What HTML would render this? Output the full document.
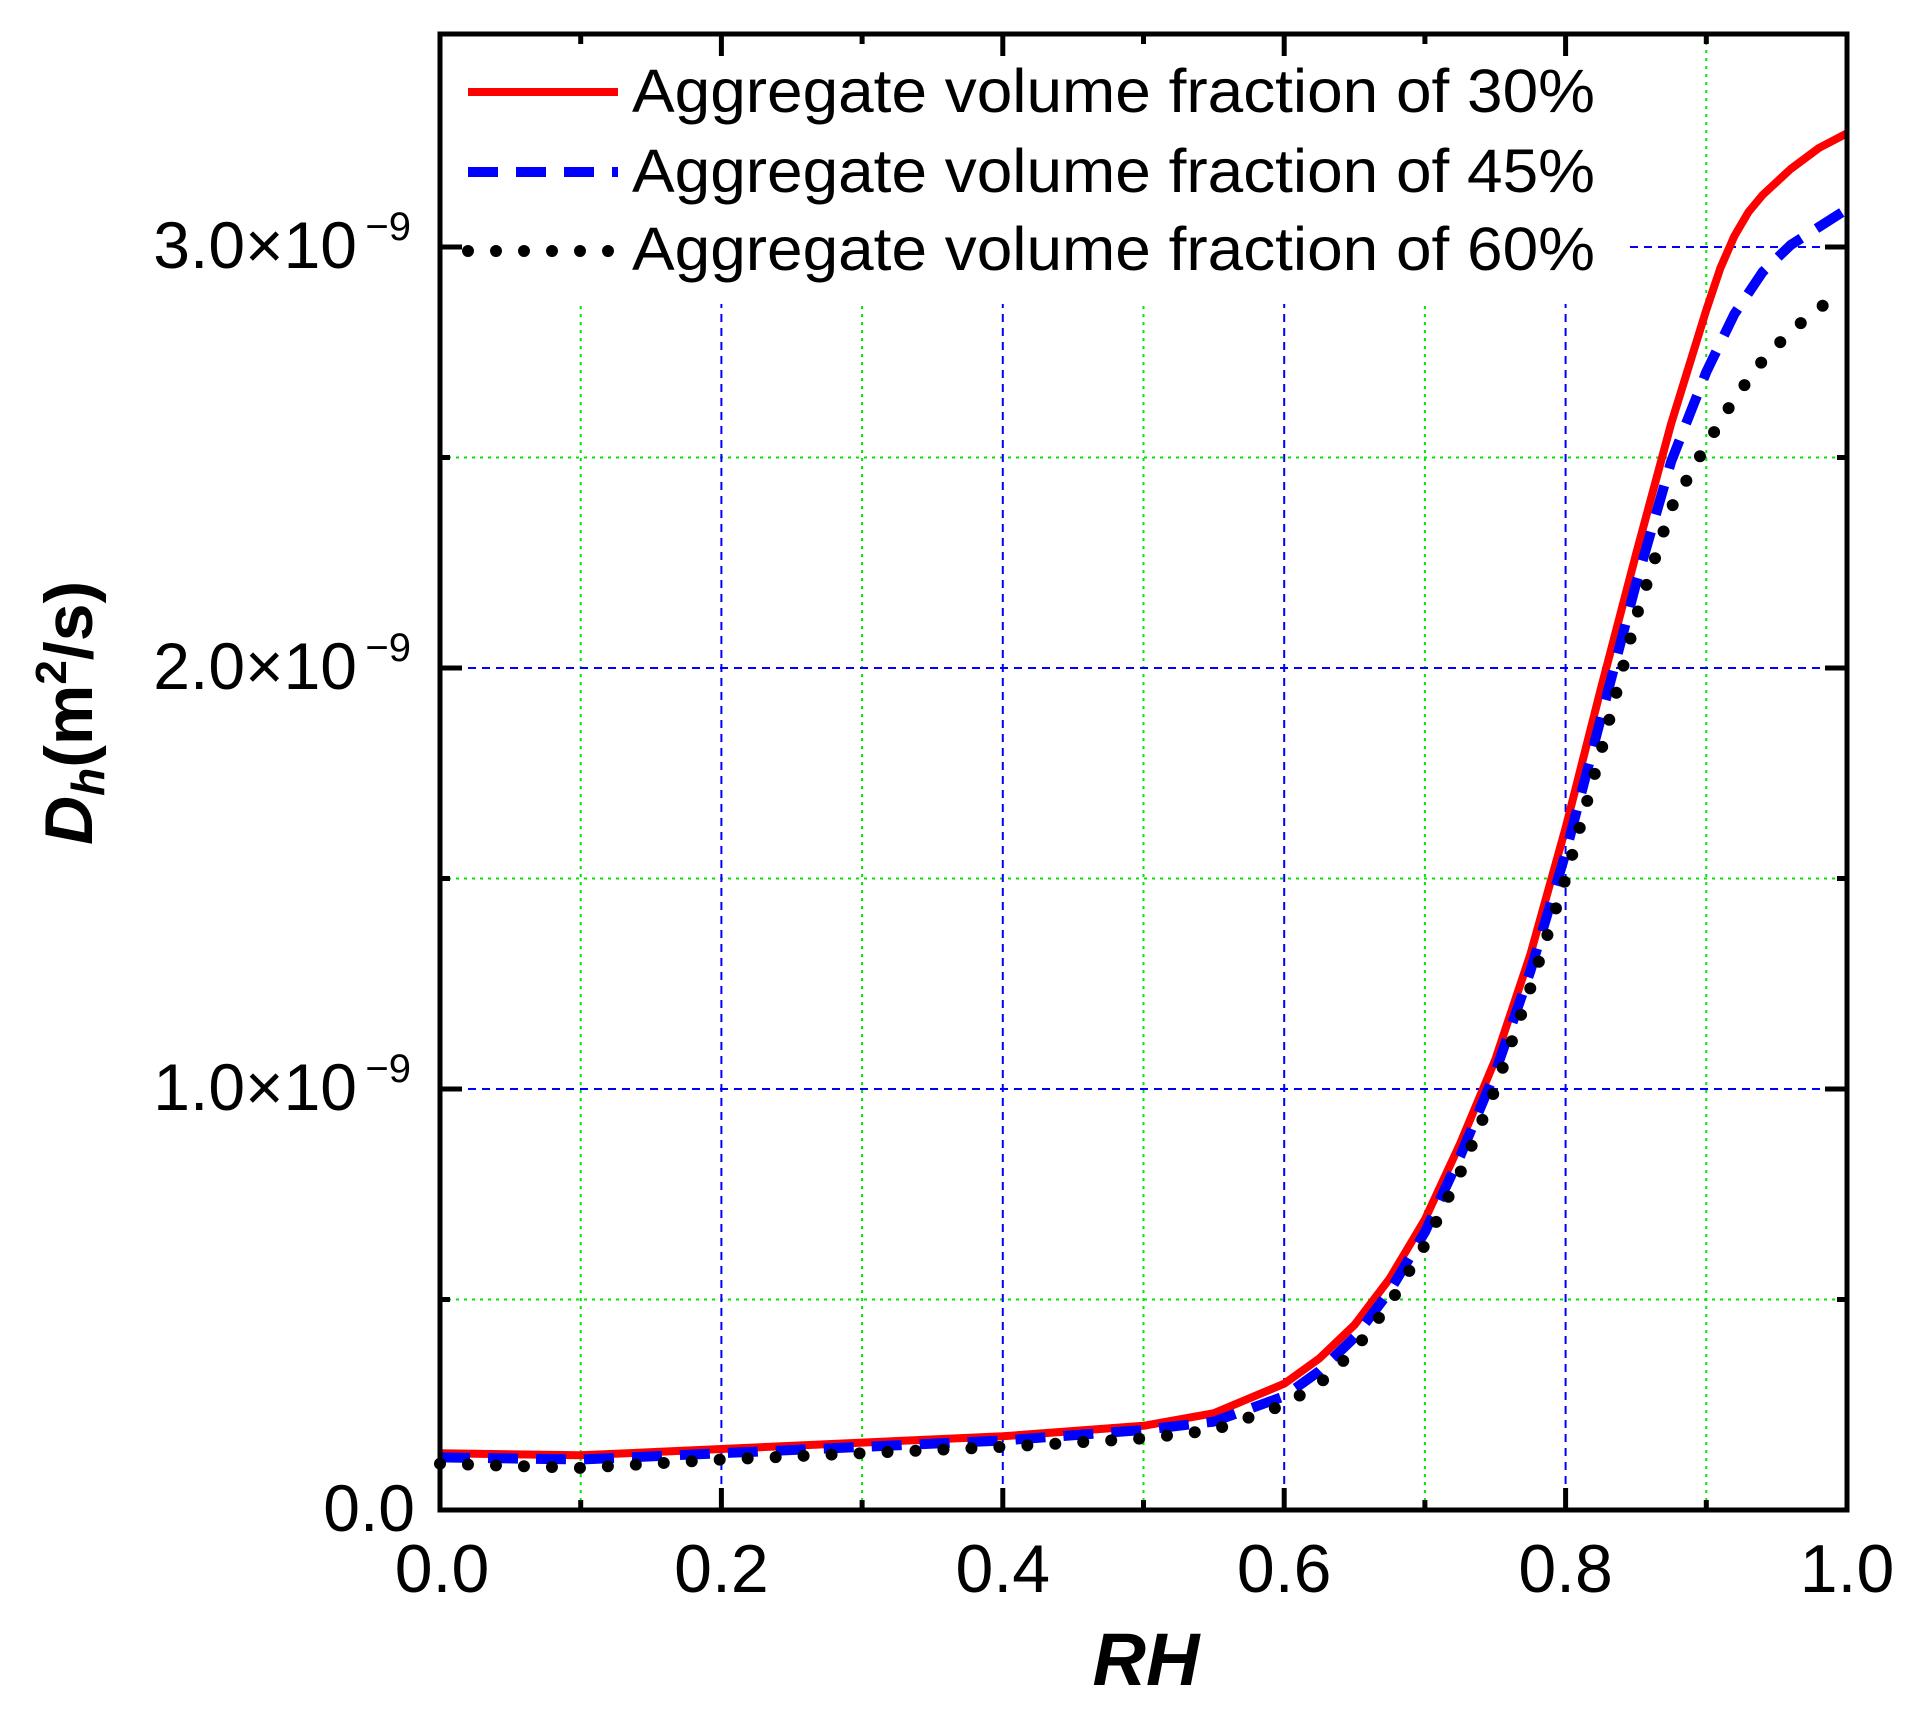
<!DOCTYPE html>
<html><head><meta charset="utf-8"><style>
html,body{margin:0;padding:0;background:#fff;}
svg{display:block;}
text{font-family:"Liberation Sans",Arial,sans-serif;fill:#000;}
</style></head><body>
<svg width="1912" height="1715" viewBox="0 0 1912 1715" xmlns="http://www.w3.org/2000/svg">
<rect width="1912" height="1715" fill="#fff"/>
<g stroke-width="2" fill="none">
 <g stroke="#00e600" stroke-dasharray="3 5">
  <line x1="580.7" y1="34" x2="580.7" y2="1510"/>
  <line x1="862.1" y1="34" x2="862.1" y2="1510"/>
  <line x1="1143.5" y1="34" x2="1143.5" y2="1510"/>
  <line x1="1424.9" y1="34" x2="1424.9" y2="1510"/>
  <line x1="1706.3" y1="34" x2="1706.3" y2="1510"/>
  <line x1="440" y1="1299.5" x2="1847" y2="1299.5"/>
  <line x1="440" y1="878.5" x2="1847" y2="878.5"/>
  <line x1="440" y1="457.5" x2="1847" y2="457.5"/>
 </g>
 <g stroke="#0000ff" stroke-dasharray="8 6">
  <line x1="721.4" y1="34" x2="721.4" y2="1510"/>
  <line x1="1002.8" y1="34" x2="1002.8" y2="1510"/>
  <line x1="1284.2" y1="34" x2="1284.2" y2="1510"/>
  <line x1="1565.6" y1="34" x2="1565.6" y2="1510"/>
  <line x1="440" y1="1089" x2="1847" y2="1089"/>
  <line x1="440" y1="668" x2="1847" y2="668"/>
  <line x1="440" y1="247" x2="1847" y2="247"/>
 </g>
</g>
<rect x="444" y="38" width="1184" height="266" fill="#fff"/>
<polyline fill="none" stroke="#ff0000" stroke-width="8" stroke-linejoin="round"
 points="440,1453.2 580.7,1455.3 721.4,1449 862.1,1442.6 1002.8,1436.3 1143.5,1425.8 1213.9,1413.2 1284.2,1383.7 1319.4,1358.4 1354.6,1324.8 1389.7,1278.5 1424.9,1219.5 1460.1,1143.7 1495.3,1059.5 1530.4,954.3 1565.6,828 1600.8,689 1636,554.3 1671.1,423.8 1706.3,310 1720.4,268 1734.4,236 1748.5,212 1762.6,195 1790.7,169 1818.9,148 1847,133.3"/>
<polyline fill="none" stroke="#0000ff" stroke-width="10" stroke-dasharray="30 18" stroke-linejoin="round"
 points="440,1457.4 580.7,1459.5 721.4,1453.2 862.1,1446.9 1002.8,1440.5 1143.5,1430 1213.9,1421.6 1284.2,1396.3 1319.4,1371.1 1354.6,1337.4 1389.7,1291.1 1424.9,1232.1 1460.1,1156.4 1495.3,1072.2 1530.4,971.1 1565.6,853.2 1600.8,718.5 1636,583.8 1671.1,461.7 1706.3,372 1734.4,314 1762.6,272 1790.7,245 1818.9,227 1847,209.1"/>
<polyline fill="none" stroke="#000" stroke-width="12" stroke-linecap="round" stroke-dasharray="0 28"
 points="440,1463.7 580.7,1467.9 721.4,1459.5 862.1,1453.2 1002.8,1446.9 1143.5,1438.4 1213.9,1430 1284.2,1404.8 1319.4,1383.7 1354.6,1350 1389.7,1303.7 1424.9,1244.8 1460.1,1173.2 1495.3,1089 1530.4,988 1565.6,878.5 1600.8,752.2 1636,617.5 1671.1,508 1706.3,444.9 1734.4,398.6 1762.6,360.7 1790.7,331.2 1832.9,297.5"/>
<rect x="440" y="34" width="1407" height="1476" fill="none" stroke="#000" stroke-width="5"/>
<g stroke="#000" stroke-width="5">
 <line x1="580.7" y1="1510" x2="580.7" y2="1500"/><line x1="721.4" y1="1510" x2="721.4" y2="1488"/>
 <line x1="862.1" y1="1510" x2="862.1" y2="1500"/><line x1="1002.8" y1="1510" x2="1002.8" y2="1488"/>
 <line x1="1143.5" y1="1510" x2="1143.5" y2="1500"/><line x1="1284.2" y1="1510" x2="1284.2" y2="1488"/>
 <line x1="1424.9" y1="1510" x2="1424.9" y2="1500"/><line x1="1565.6" y1="1510" x2="1565.6" y2="1488"/>
 <line x1="1706.3" y1="1510" x2="1706.3" y2="1500"/>
 <line x1="580.7" y1="34" x2="580.7" y2="44"/><line x1="721.4" y1="34" x2="721.4" y2="56"/>
 <line x1="862.1" y1="34" x2="862.1" y2="44"/><line x1="1002.8" y1="34" x2="1002.8" y2="56"/>
 <line x1="1143.5" y1="34" x2="1143.5" y2="44"/><line x1="1284.2" y1="34" x2="1284.2" y2="56"/>
 <line x1="1424.9" y1="34" x2="1424.9" y2="44"/><line x1="1565.6" y1="34" x2="1565.6" y2="56"/>
 <line x1="1706.3" y1="34" x2="1706.3" y2="44"/>
 <line x1="440" y1="1299.5" x2="450" y2="1299.5"/><line x1="440" y1="1089" x2="462" y2="1089"/>
 <line x1="440" y1="878.5" x2="450" y2="878.5"/><line x1="440" y1="668" x2="462" y2="668"/>
 <line x1="440" y1="457.5" x2="450" y2="457.5"/><line x1="440" y1="247" x2="462" y2="247"/>
 <line x1="1847" y1="1299.5" x2="1837" y2="1299.5"/><line x1="1847" y1="1089" x2="1825" y2="1089"/>
 <line x1="1847" y1="878.5" x2="1837" y2="878.5"/><line x1="1847" y1="668" x2="1825" y2="668"/>
 <line x1="1847" y1="457.5" x2="1837" y2="457.5"/><line x1="1847" y1="247" x2="1825" y2="247"/>
</g>
<line x1="468" y1="92" x2="618" y2="92" stroke="#ff0000" stroke-width="8"/>
<line x1="468" y1="172" x2="618" y2="172" stroke="#0000ff" stroke-width="10" stroke-dasharray="30 18"/>
<line x1="468" y1="251" x2="618" y2="251" stroke="#000" stroke-width="12" stroke-linecap="round" stroke-dasharray="0 28"/>
<g font-size="61">
 <text x="632" y="112" textLength="963" lengthAdjust="spacingAndGlyphs">Aggregate volume fraction of 30%</text>
 <text x="632" y="192" textLength="963" lengthAdjust="spacingAndGlyphs">Aggregate volume fraction of 45%</text>
 <text x="632" y="270" textLength="963" lengthAdjust="spacingAndGlyphs">Aggregate volume fraction of 60%</text>
</g>
<g font-size="68" text-anchor="middle">
 <text x="442" y="1592">0.0</text><text x="721.4" y="1592">0.2</text>
 <text x="1002.8" y="1592">0.4</text><text x="1284.2" y="1592">0.6</text>
 <text x="1565.6" y="1592">0.8</text><text x="1847" y="1592">1.0</text>
</g>
<g font-size="66" text-anchor="end">
 <text x="415" y="1531">0.0</text>
 <text x="357" y="1110">1.0×10</text><text x="411" y="1082" font-size="40">−9</text>
 <text x="357" y="689">2.0×10</text><text x="411" y="661" font-size="40">−9</text>
 <text x="357" y="268">3.0×10</text><text x="411" y="240" font-size="40">−9</text>
</g>
<text x="1146" y="1685" font-size="74" font-weight="bold" font-style="italic" text-anchor="middle">RH</text>
<text transform="translate(92,845) rotate(-90)" font-size="68" font-weight="bold"><tspan font-style="italic">D</tspan><tspan font-style="italic" font-size="46" dy="12">h</tspan><tspan dy="-12">(m</tspan><tspan font-size="44" dy="-26">2</tspan><tspan dy="26">/s)</tspan></text>
</svg>
</body></html>
